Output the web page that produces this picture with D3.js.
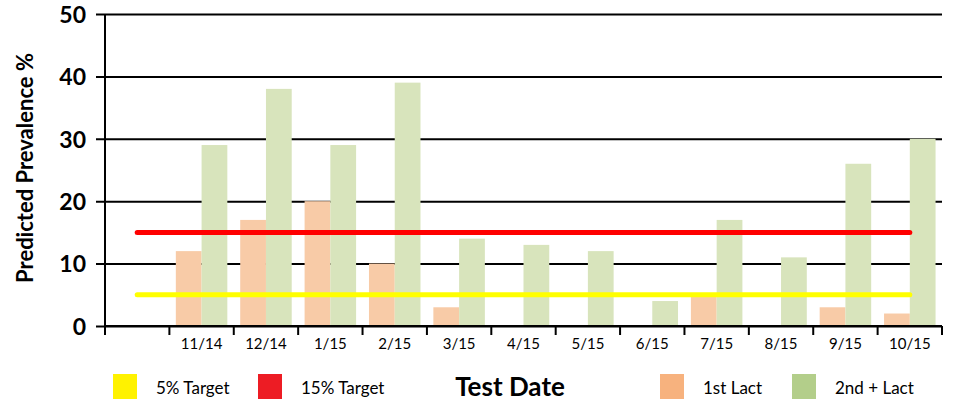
<!DOCTYPE html>
<html>
<head>
<meta charset="utf-8">
<script src="https://cdn.jsdelivr.net/npm/d3@7"></script>
<style>
  body { margin: 0; background: #fff; }
  svg { display: block; font-family: Lato, "Open Sans", sans-serif; }
</style>
</head>
<body>
<svg width="955" height="401"></svg>
<script>
// chart data
let dates = ["", "11/14", "12/14", "1/15", "2/15", "3/15", "4/15", "5/15",
             "6/15", "7/15", "8/15", "9/15", "10/15"];
let firstLact  = [null, 12, 17, 20, 10, 3, 0, 0, 0, 5, 0, 3, 2];
let secondLact = [null, 29, 38, 29, 39, 14, 13, 12, 4, 17, 11, 26, 30];
let target5  = [5, 5, 5, 5, 5, 5, 5, 5, 5, 5, 5, 5, 5];
let target15 = [15, 15, 15, 15, 15, 15, 15, 15, 15, 15, 15, 15, 15];
let yTicks = [0, 10, 20, 30, 40, 50];
let seriesNames = ["1st Lact", "2nd + Lact"];

var drawChart = function() {
  let svg = d3.select("svg");

  // plot area, in page pixels
  let left = 105, right = 942, top = 14, bottom = 326;

  let x = d3.scaleBand()
    .domain(dates)
    .range([left, right])
    .padding(0);

  let y = d3.scaleLinear()
    .domain([0, 50])
    .range([bottom, top]);

  // two bars side by side inside each date band
  let sub = d3.scaleBand()
    .domain(seriesNames)
    .range([x.bandwidth() * 0.1, x.bandwidth() * 0.9])
    .padding(0);

  // horizontal gridlines (drawn as a y axis with long ticks)
  let yAxis = d3.axisLeft(y)
    .tickValues(yTicks)
    .tickSize(-(right - left) - 9)
    .tickPadding(10)
    .tickFormat(d3.format("d"));

  let yGroup = svg.append("g")
    .attr("transform", "translate(" + (left - 9) + ",0)")
    .call(yAxis);
  yGroup.select(".domain").remove();
  yGroup.selectAll(".tick line")
    .attr("stroke", "#000")
    .attr("stroke-width", 2);
  yGroup.selectAll(".tick text")
    .attr("fill", "#000")
    .attr("font-size", 23)
    .attr("font-weight", "bold")
    .attr("dy", "0.36em")
    .attr("font-family", "Lato, sans-serif");

  // bars
  let rows = dates.map(function(d, i) {
    return { date: d, values: [firstLact[i], secondLact[i]] };
  });
  let barColors = ["#F8CBA7", "#D8E4BC"];

  let groups = svg.append("g").selectAll("g")
    .data(rows)
    .enter().append("g")
    .attr("transform", function(d) { return "translate(" + x(d.date) + ",0)"; });

  groups.selectAll("rect")
    .data(function(d) {
      return d.values.map(function(v, j) { return { key: seriesNames[j], value: v, j: j }; })
        .filter(function(e) { return e.value; });
    })
    .enter().append("rect")
    .attr("x", function(d) { return sub(d.key); })
    .attr("width", sub.bandwidth())
    .attr("y", function(d) { return y(d.value); })
    .attr("height", function(d) { return bottom - y(d.value); })
    .attr("fill", function(d) { return barColors[d.j]; });

  // target lines through the band centres
  let line = d3.line()
    .x(function(d, i) { return x(dates[i]) + x.bandwidth() / 2; })
    .y(function(d) { return y(d); });

  svg.append("path")
    .datum(target15)
    .attr("d", line)
    .attr("fill", "none")
    .attr("stroke", "#FF0000")
    .attr("stroke-width", 5)
    .attr("stroke-linecap", "round");

  svg.append("path")
    .datum(target5)
    .attr("d", line)
    .attr("fill", "none")
    .attr("stroke", "#FFFF00")
    .attr("stroke-width", 5)
    .attr("stroke-linecap", "round");

  // x axis with band-boundary ticks
  let xAxis = d3.axisBottom(x).tickSize(0).tickPadding(12);
  let xGroup = svg.append("g")
    .attr("transform", "translate(0," + bottom + ")")
    .call(xAxis);
  xGroup.select(".domain").remove();
  xGroup.selectAll(".tick text")
    .attr("fill", "#000")
    .attr("font-size", 15)
    .attr("font-family", "Lato, sans-serif");

  let edges = dates.map(function(d) { return x(d); }).concat([right]);
  xGroup.selectAll("line.edge")
    .data(edges)
    .enter().append("line")
    .attr("class", "edge")
    .attr("x1", function(d) { return d; })
    .attr("x2", function(d) { return d; })
    .attr("y1", 0)
    .attr("y2", 9)
    .attr("stroke", "#000")
    .attr("stroke-width", 2);

  xGroup.append("line")
    .attr("x1", left).attr("x2", right)
    .attr("y1", 0).attr("y2", 0)
    .attr("stroke", "#000").attr("stroke-width", 2);

  // left axis line
  svg.append("line")
    .attr("x1", left).attr("x2", left)
    .attr("y1", top).attr("y2", bottom + 9)
    .attr("stroke", "#000").attr("stroke-width", 2);

  // y axis title
  svg.append("text")
    .attr("transform", "translate(33,168) rotate(-90)")
    .attr("text-anchor", "middle")
    .attr("font-size", 22)
    .attr("font-weight", "bold")
    .text("Predicted Prevalence %");

  // legend along the bottom
  let legend = [
    { label: "5% Target",  color: "#FFF200", x: 113 },
    { label: "15% Target", color: "#ED1C24", x: 258 },
    { label: "1st Lact",   color: "#F7B27E", x: 660 },
    { label: "2nd + Lact", color: "#B3CE8A", x: 792 }
  ];
  let items = svg.append("g").selectAll("g")
    .data(legend)
    .enter().append("g")
    .attr("transform", function(d) { return "translate(" + d.x + ",374)"; });
  items.append("rect")
    .attr("width", 24).attr("height", 25)
    .attr("fill", function(d) { return d.color; });
  items.append("text")
    .attr("x", 43).attr("y", 20)
    .attr("font-size", 17)
    .text(function(d) { return d.label; });

  svg.append("text")
    .attr("x", 510).attr("y", 396)
    .attr("text-anchor", "middle")
    .attr("font-size", 26)
    .attr("font-weight", "bold")
    .text("Test Date");
};

drawChart();
</script>
</body>
</html>
